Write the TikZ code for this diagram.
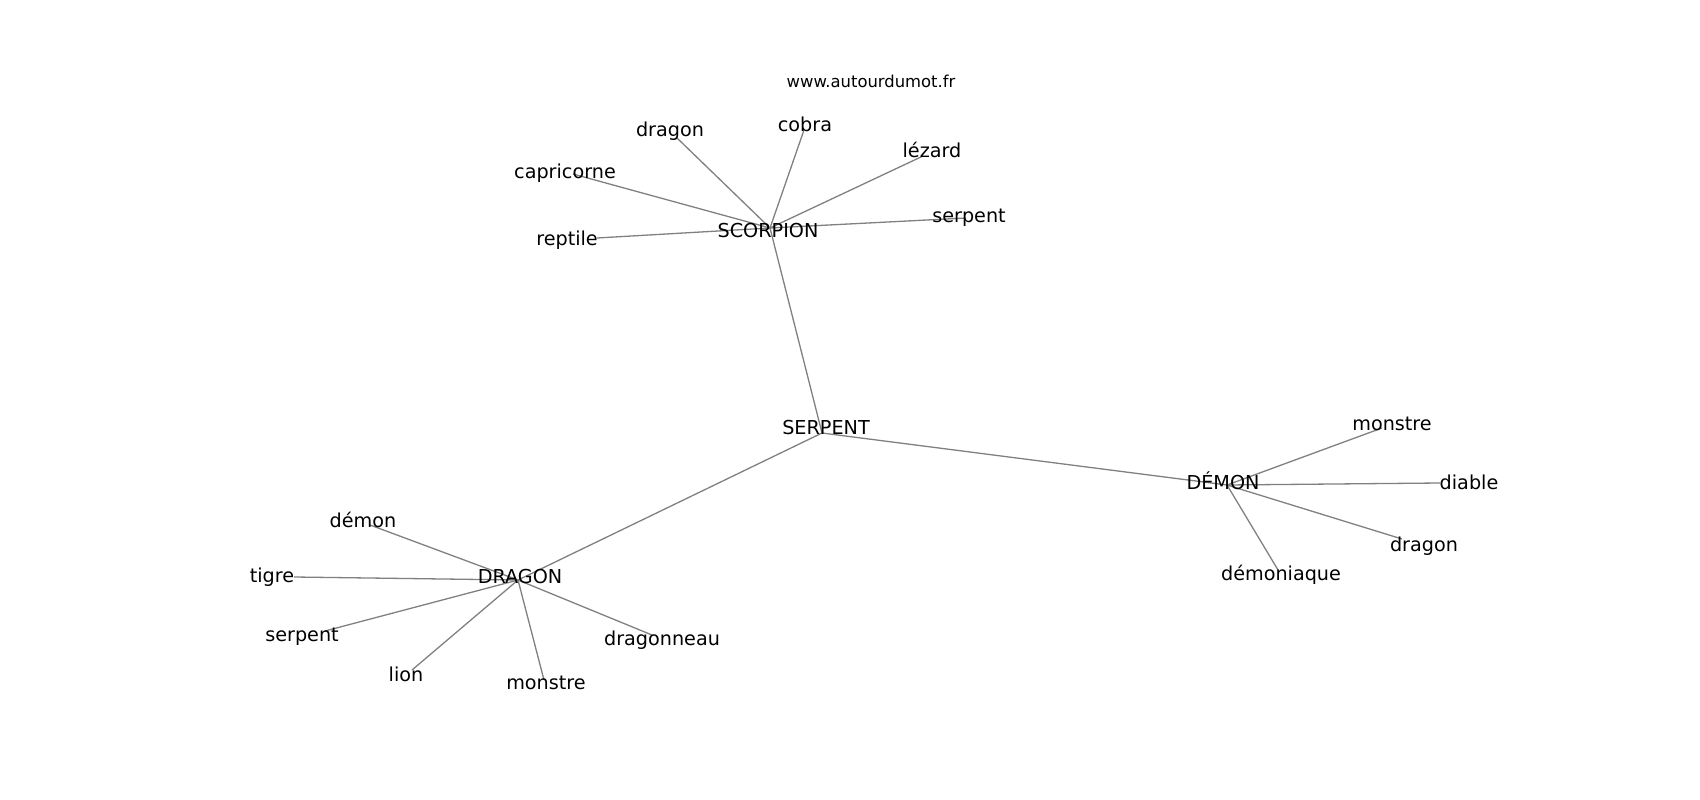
\documentclass[tikz,border=0pt]{standalone}
\usepackage{fontspec}
\setmainfont{DejaVu Sans}
\begin{document}
\begin{tikzpicture}[x=1pt,y=-1pt,
  lbl/.style={inner sep=0pt,anchor=base,font=\fontsize{19.2}{23}\selectfont,text=black},
  ttl/.style={inner sep=0pt,anchor=base,font=\fontsize{16.4}{20}\selectfont,text=black},
  edge/.style={draw=black!50,line width=1.3pt}]
\useasboundingbox (0,0) rectangle (1700,800);
% connector points
\coordinate (pSCO) at (770,228);
\coordinate (pSdra) at (677,138);
\coordinate (pScob) at (804,130);
\coordinate (pScap) at (573,174);
\coordinate (pSlez) at (923,156);
\coordinate (pSser) at (966,218);
\coordinate (pSrep) at (597,238);
\coordinate (pSER) at (822,433);
\coordinate (pDEM) at (1227,485);
\coordinate (pMmon) at (1382,428);
\coordinate (pMdia) at (1440,483);
\coordinate (pMdra) at (1402,539);
\coordinate (pMdmq) at (1278,570);
\coordinate (pDRA) at (518,580);
\coordinate (pDdem) at (370,525);
\coordinate (pDtig) at (294,577);
\coordinate (pDser) at (325,631);
\coordinate (pDlio) at (412,670);
\coordinate (pDmon) at (544,680);
\coordinate (pDdrn) at (652,635);
% connectors
\draw[edge] (pSER) -- (pSCO);
\draw[edge] (pSER) -- (pDEM);
\draw[edge] (pSER) -- (pDRA);
\foreach \q in {pSdra,pScob,pScap,pSlez,pSser,pSrep} \draw[edge] (pSCO) -- (\q);
\foreach \q in {pMmon,pMdia,pMdra,pMdmq} \draw[edge] (pDEM) -- (\q);
\foreach \q in {pDdem,pDtig,pDser,pDlio,pDmon,pDdrn} \draw[edge] (pDRA) -- (\q);
% labels
\node[ttl] (title) at (871,88) {www.autourdumot.fr};
\node[lbl] (tSCO) at (768,237) {SCORPION};
\node[lbl] (tSdra) at (670,136.5) {dragon};
\node[lbl] (tScob) at (805,131) {cobra};
\node[lbl] (tScap) at (565,178) {capricorne};
\node[lbl] (tSlez) at (932,157) {lézard};
\node[lbl] (tSser) at (969,222) {serpent};
\node[lbl] (tSrep) at (567,245) {reptile};
\node[lbl] (tSER) at (826,434) {SERPENT};
\node[lbl] (tDEM) at (1223,489) {DÉMON};
\node[lbl] (tMmon) at (1392,430) {monstre};
\node[lbl] (tMdia) at (1469,489) {diable};
\node[lbl] (tMdra) at (1424,551.5) {dragon};
\node[lbl] (tMdmq) at (1281,580) {démoniaque};
\node[lbl] (tDRA) at (520,583) {DRAGON};
\node[lbl] (tDdem) at (363,527) {démon};
\node[lbl] (tDtig) at (272,582) {tigre};
\node[lbl] (tDser) at (302,641) {serpent};
\node[lbl] (tDlio) at (406,681) {lion};
\node[lbl] (tDmon) at (546,689) {monstre};
\node[lbl] (tDdrn) at (662,645) {dragonneau};
\end{tikzpicture}
\end{document}
